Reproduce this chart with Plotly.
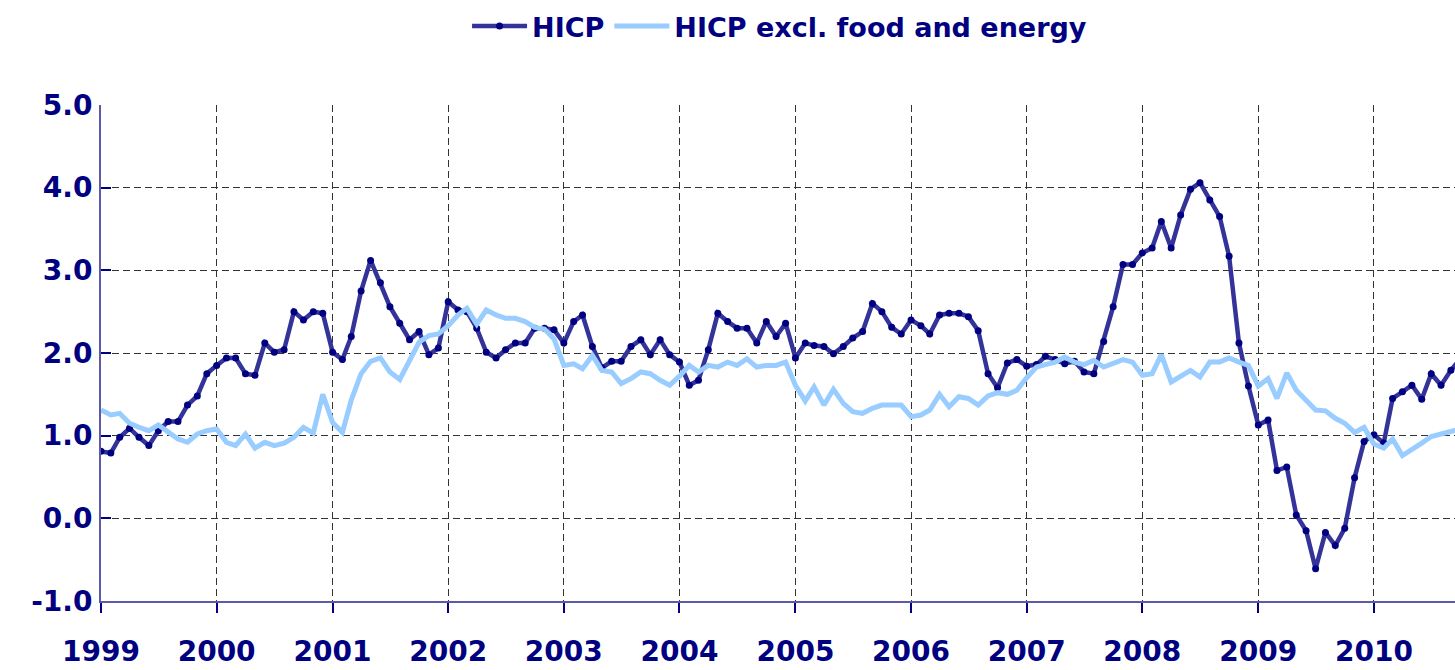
import pandas as pd
import plotly.graph_objects as go

months = pd.date_range("1999-01-01", "2010-10-01", freq="MS")

hicp = [
    0.81, 0.79, 0.98, 1.09, 0.98, 0.88, 1.06, 1.17, 1.17, 1.37, 1.48, 1.75,
    1.85, 1.94, 1.94, 1.75, 1.73, 2.12, 2.01, 2.04, 2.50, 2.40, 2.50, 2.48,
    2.01, 1.92, 2.20, 2.75, 3.12, 2.85, 2.56, 2.36, 2.16, 2.26, 1.98, 2.06,
    2.62, 2.52, 2.50, 2.30, 2.01, 1.94, 2.04, 2.12, 2.12, 2.30, 2.30, 2.28,
    2.12, 2.38, 2.46, 2.08, 1.82, 1.90, 1.90, 2.08, 2.16, 1.98, 2.16, 1.98,
    1.89, 1.61, 1.67, 2.04, 2.48, 2.38, 2.30, 2.30, 2.12, 2.38, 2.20, 2.36,
    1.94, 2.12, 2.09, 2.08, 1.99, 2.08, 2.18, 2.26, 2.60, 2.50, 2.31, 2.23,
    2.40, 2.33, 2.23, 2.46, 2.48, 2.48, 2.44, 2.27, 1.75, 1.58, 1.88, 1.92,
    1.84, 1.86, 1.96, 1.92, 1.87, 1.90, 1.77, 1.75, 2.14, 2.56, 3.07, 3.07,
    3.21, 3.27, 3.59, 3.27, 3.67, 3.98, 4.06, 3.85, 3.65, 3.17, 2.12, 1.60,
    1.13, 1.19, 0.58, 0.62, 0.04, -0.15, -0.61, -0.17, -0.33, -0.12, 0.49, 0.93,
    1.01, 0.91, 1.45, 1.53, 1.61, 1.44, 1.75, 1.61, 1.79, 1.93,
]

core = [
    1.31, 1.25, 1.27, 1.15, 1.10, 1.06, 1.13, 1.04, 0.96, 0.92, 1.02, 1.06,
    1.08, 0.92, 0.88, 1.02, 0.85, 0.92, 0.88, 0.91, 0.98, 1.10, 1.03, 1.50,
    1.16, 1.04, 1.43, 1.75, 1.90, 1.94, 1.77, 1.68, 1.91, 2.13, 2.21, 2.23,
    2.33, 2.46, 2.54, 2.35, 2.52, 2.46, 2.42, 2.42, 2.38, 2.31, 2.29, 2.17,
    1.85, 1.87, 1.81, 1.97, 1.79, 1.77, 1.63, 1.69, 1.77, 1.75, 1.67, 1.61,
    1.72, 1.85, 1.77, 1.85, 1.83, 1.89, 1.85, 1.93, 1.83, 1.85, 1.85, 1.89,
    1.61, 1.42, 1.59, 1.37, 1.56, 1.39, 1.29, 1.27, 1.33, 1.37, 1.37, 1.37,
    1.23, 1.25, 1.31, 1.50, 1.35, 1.47, 1.45, 1.37, 1.48, 1.52, 1.50, 1.55,
    1.70, 1.83, 1.86, 1.89, 1.95, 1.89, 1.86, 1.91, 1.83, 1.87, 1.92, 1.89,
    1.73, 1.75, 1.98, 1.65, 1.72, 1.79, 1.71, 1.89, 1.89, 1.94, 1.89, 1.85,
    1.60, 1.69, 1.45, 1.76, 1.55, 1.43, 1.31, 1.30, 1.21, 1.15, 1.04, 1.10,
    0.90, 0.85, 0.96, 0.76, 0.83, 0.91, 0.99, 1.02, 1.06, 1.08,
]

y_ticks = [-1, 0, 1, 2, 3, 4, 5]
y_tick_labels = ["-1.0", "0.0", "1.0", "2.0", "3.0", "4.0", "5.0"]
series_names = ["HICP", "HICP excl. food and energy"]

NAVY = "#000080"
FONT = "DejaVu Sans"

fig = go.Figure()
fig.add_trace(go.Scatter(
    x=months, y=hicp, name=series_names[0], mode="lines+markers",
    line=dict(color="#333399", width=4.5),
    marker=dict(color=NAVY, size=7),
))
fig.add_trace(go.Scatter(
    x=months, y=core, name=series_names[1], mode="lines",
    line=dict(color="#99CCFF", width=5),
))

fig.update_layout(
    width=1455, height=670,
    margin=dict(l=101, r=0, t=105, b=69),
    paper_bgcolor="white", plot_bgcolor="white",
    font=dict(family=FONT, color=NAVY, size=28, weight="bold"),
    showlegend=True,
    legend=dict(
        orientation="h", xref="container", yref="container",
        x=0.321, xanchor="left", y=0.997, yanchor="top",
        font=dict(family=FONT, size=27, color=NAVY, weight="bold"),
        itemwidth=55, bgcolor="rgba(0,0,0,0)", tracegroupgap=0,
    ),
)

fig.update_xaxes(
    type="date", range=["1999-01-01", "2010-09-14"],
    dtick="M12", tick0="1999-01-01", tickformat="%Y",
    showgrid=True, gridcolor="#333333", gridwidth=1, griddash="7px,4px",
    showline=True, linecolor="#5a5aa8", linewidth=2,
    ticks="outside", ticklen=10, tickcolor=NAVY, tickwidth=1.5,
    ticklabelstandoff=14, automargin=False,
    tickfont=dict(family=FONT, size=28, color=NAVY, weight="bold"),
    zeroline=False,
)
fig.update_yaxes(
    range=[-1, 5], tickvals=y_ticks, ticktext=y_tick_labels,
    showgrid=True, gridcolor="#333333", gridwidth=1, griddash="7px,4px",
    showline=True, linecolor="#5a5aa8", linewidth=2,
    ticks="inside", ticklen=10, tickcolor=NAVY, tickwidth=1.5,
    ticklabelstandoff=1, automargin=False,
    tickfont=dict(family=FONT, size=28, color=NAVY, weight="bold"),
    zeroline=False,
)

fig.write_html(
    "out.html",
    config={"displayModeBar": False},
    post_script="document.body.style.margin='0';document.body.style.overflow='hidden';",
)
